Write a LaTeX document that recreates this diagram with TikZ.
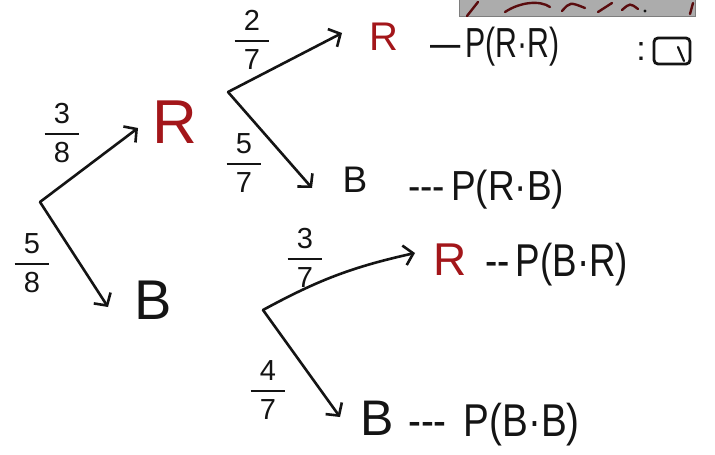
\documentclass[tikz,border=0pt]{standalone}
\usepackage{amsmath}
\usepackage{fontspec}
\setmainfont{Liberation Sans}
\usetikzlibrary{arrows.meta,calc}
\definecolor{inkred}{HTML}{A3161A}
\definecolor{ink}{HTML}{141414}
\newcommand\hfr[2]{$\genfrac{}{}{2.4pt}{0}{\makebox[1.2em]{#1}}{\makebox[1.2em]{#2}}$}
\begin{document}
\begin{tikzpicture}[x=1pt,y=-1pt,
  edge/.style={draw=ink,line width=2.6pt,line cap=round,-{Straight Barb[length=9pt,width=20pt]}},
  letter/.style={inner sep=0pt,text=ink},
  redletter/.style={inner sep=0pt,text=inkred},
  prob/.style={anchor=west,inner sep=0pt,text=ink,font=\fontsize{42}{42}\selectfont},
  fracnode/.style={inner sep=0pt,text=ink,font=\fontsize{29}{29}\selectfont},
  scribble/.style={draw=inkred!55!black,line width=2.4pt,line cap=round}]
\useasboundingbox (0,0) rectangle (715,455);
\fill[white] (0,0) rectangle (715,455);
% cropped grey board at the top
\fill[gray!65] (459,0) rectangle (695,16);
\draw[ink!55,line width=1pt] (459,0) -- (459,16) -- (695,16) -- (695,0);
\draw[scribble] (467,16) -- (478,2);
\draw[scribble] (505,12) .. controls (520,2) and (540,0) .. (550,7);
\draw[scribble] (562,11) .. controls (570,2) .. (585,8);
\draw[scribble] (598,12) -- (612,3);
\draw[scribble] (622,10) .. controls (630,3) .. (638,9);
\fill[ink] (645,11) circle (1.6);
\draw[scribble] (690,14) -- (693,3);
% letters
\node[redletter,font=\fontsize{62}{62}\selectfont] (R0) at (175,122) {R};
\node[letter,font=\fontsize{56}{56}\selectfont] (B0) at (153,300) {B};
\node[redletter,font=\fontsize{40}{40}\selectfont] (R1) at (384,37) {R};
\node[letter,font=\fontsize{37}{37}\selectfont] (B1) at (355,180) {B};
\node[redletter,font=\fontsize{46}{46}\selectfont] (R2) at (450,260) {R};
\node[letter,font=\fontsize{50}{50}\selectfont] (B2) at (377,418) {B};
% branch points and arrow tips
\coordinate (b0) at (40,202);
\coordinate (b1) at (228,92);
\coordinate (b2) at (263,310);
\coordinate (t1) at (138,128);
\coordinate (t2) at (108,307);
\coordinate (t3) at (342,33);
\coordinate (t4) at (312,188);
\coordinate (t5) at (415,253);
\coordinate (t6) at (340,417);
\draw[edge] (b0) -- (t1);
\draw[edge] (b0) -- (t2);
\draw[edge] (b1) -- (t3);
\draw[edge] (b1) -- (t4);
\draw[edge] (b2) to[bend left=8] (t5);
\draw[edge] (b2) -- (t6);
% fractions
\node[fracnode] (f38) at (62,133) {\hfr{3}{8}};
\node[fracnode] (f58) at (32,263) {\hfr{5}{8}};
\node[fracnode] (f27) at (252,40) {\hfr{2}{7}};
\node[fracnode] (f57) at (244,163) {\hfr{5}{7}};
\node[fracnode] (f37) at (305,258) {\hfr{3}{7}};
\node[fracnode] (f47) at (268,390) {\hfr{4}{7}};
% outcomes
\node[prob,xscale=0.72] (pRR) at (430,47) {—\,P(R·R)};
\node[prob,xscale=0.88] (pRB) at (408,190) {{-}{-}{-}\,P(R·B)};
\node[prob,xscale=0.8,font=\fontsize{46}{46}\selectfont] (pBR) at (485,265) {{-}{-}\,P(B·R)};
\node[prob,xscale=0.84,font=\fontsize{46}{46}\selectfont] (pBB) at (408,425) {{-}{-}{-}\;\,P(B·B)};
\node[letter,font=\fontsize{34}{34}\selectfont] (colon) at (641,52) {:};
\node[draw=ink,line width=2.8pt,rounded corners=4pt,minimum width=36pt,minimum height=26pt,inner sep=0pt] (icon) at (672,51) {};
\draw[ink,line width=2.2pt,line cap=round] ($(icon.center)+(6,-4)$) -- ($(icon.center)+(12,10)$);
\end{tikzpicture}
\end{document}
